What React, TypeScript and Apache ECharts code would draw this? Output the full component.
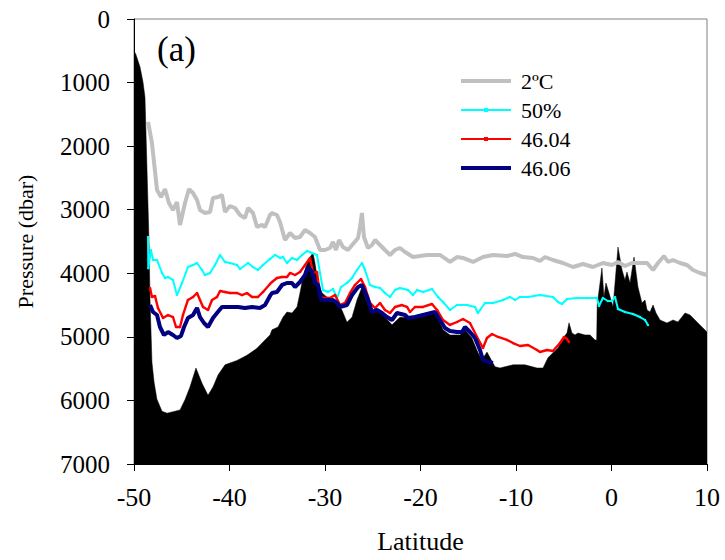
import React, { useEffect, useRef } from "react";
import * as echarts from "echarts";

const xTicks = { min: -50, max: 10, interval: 10 };
const yTicks = { min: 0, max: 7000, interval: 1000 };
const seriesNames = ["2ºC", "50%", "46.04", "46.06"];

// Bathymetry (sea floor) [latitude, pressure dbar]
const bathymetry: [number, number][] = [
  [-50, 500], [-49.8, 560], [-49.37, 755], [-49.06, 990], [-48.85, 1230], [-48.43, 3480],
  [-48.32, 4420], [-48.12, 5400], [-47.9, 5710], [-47.6, 5980], [-47.07, 6170], [-46.54, 6200],
  [-45.18, 6150], [-44.66, 5990], [-44.14, 5790], [-43.51, 5490], [-42.88, 5730], [-42.25, 5920],
  [-41.73, 5790], [-41.2, 5600], [-40.47, 5440], [-39.21, 5370], [-38.17, 5290], [-37.12, 5180],
  [-36.49, 5080], [-35.76, 4970], [-35.55, 4890], [-34.92, 4845], [-34.4, 4690], [-33.98, 4610],
  [-33.46, 4625], [-32.93, 4530], [-32.62, 4310], [-32.3, 4060], [-31.88, 3840], [-31.57, 3745],
  [-31.26, 3680], [-31.05, 3840], [-30.73, 4150], [-30.31, 4310], [-29.79, 4375], [-29.27, 4390],
  [-28.74, 4470], [-28.22, 4580], [-27.7, 4770], [-27.17, 4690], [-26.65, 4420], [-26.13, 4220],
  [-25.81, 4375], [-25.29, 4580], [-24.76, 4580], [-24.24, 4610], [-23.72, 4690], [-22.98, 4810],
  [-22.46, 4735], [-22.15, 4690], [-21.1, 4700], [-20.05, 4656], [-18.69, 4610], [-18.17, 4700],
  [-17.64, 4890], [-16.91, 4970], [-15.86, 4970], [-15.34, 4890], [-14.61, 5020], [-13.98, 5250],
  [-13.56, 5360], [-13.04, 5240], [-12.6, 5360], [-12.2, 5470], [-11.68, 5490], [-10.31, 5440],
  [-9.06, 5440], [-7.8, 5490], [-7.17, 5490], [-6.65, 5330], [-6.13, 5250], [-5.6, 5175],
  [-5.08, 5020], [-4.66, 4940], [-4.45, 4780], [-4.14, 4940], [-3.82, 4970], [-3.51, 4940],
  [-2.77, 4970], [-2.25, 4970], [-1.73, 5050], [-1.55, 5050], [-1.5, 4500], [-1.0, 3917],
  [-0.79, 4373], [-0.58, 4153], [-0.26, 4310], [0.16, 4530], [0.68, 3587], [1.1, 3948],
  [1.41, 4106], [1.62, 3980], [1.94, 4153], [2.36, 3744], [2.77, 4216], [3.19, 4467],
  [3.51, 4420], [3.72, 4577], [4.03, 4609], [4.35, 4499], [4.66, 4625], [5.08, 4735],
  [5.81, 4782], [6.44, 4735], [6.96, 4766], [7.7, 4625], [8.22, 4656], [8.95, 4766], [10, 4924],
];

// 2ºC isotherm
const iso2C: [number, number][] = [
  [-48.53, 1620], [-48.12, 1950], [-47.59, 2690], [-47.17, 2800], [-46.75, 2675], [-46.34, 2895],
  [-45.92, 3005], [-45.5, 2880], [-45.18, 3240], [-44.66, 2895], [-44.24, 2675], [-43.82, 2737],
  [-43.4, 2847], [-43.09, 3005], [-42.57, 3052], [-42.04, 3036], [-41.73, 2816], [-41.2, 2800],
  [-40.79, 2768], [-40.47, 3036], [-39.95, 2942], [-39.42, 2973], [-38.9, 3083], [-38.38, 3130],
  [-38.06, 2973], [-37.54, 3052], [-37.12, 3272], [-36.6, 3240], [-36.28, 3272], [-35.76, 3083],
  [-35.55, 3052], [-35.03, 3083], [-34.71, 3193], [-34.19, 3476], [-33.66, 3366], [-33.14, 3445],
  [-32.62, 3429], [-32.09, 3319], [-31.57, 3366], [-31.05, 3429], [-30.52, 3634], [-30.0, 3634],
  [-29.48, 3602], [-29.16, 3508], [-28.85, 3634], [-28.53, 3476], [-28.12, 3586], [-27.59, 3634],
  [-27.07, 3540], [-26.54, 3445], [-26.34, 3272], [-26.13, 3052], [-25.92, 3429], [-25.5, 3602],
  [-25.08, 3555], [-24.76, 3476], [-24.24, 3555], [-23.72, 3634], [-23.19, 3712], [-22.67, 3634],
  [-22.15, 3602], [-21.62, 3665], [-20.79, 3744], [-19.32, 3712], [-17.96, 3712], [-16.91, 3822],
  [-16.18, 3744], [-15.55, 3759], [-14.5, 3822], [-13.46, 3744], [-12.41, 3712], [-10.94, 3728],
  [-10.1, 3696], [-9.27, 3744], [-8.22, 3759], [-7.49, 3807], [-6.96, 3744], [-6.13, 3791],
  [-5.08, 3838], [-4.03, 3901], [-2.98, 3854], [-1.94, 3901], [-0.9, 3838], [0.05, 3870],
  [0.68, 3822], [1.41, 3885], [2.15, 3838], [2.77, 3838], [3.72, 3838], [4.35, 3948],
  [4.87, 3838], [5.5, 3728], [5.92, 3822], [6.44, 3791], [7.17, 3838], [7.91, 3870],
  [8.53, 3948], [9.27, 3995], [10.0, 4027],
];

// 50%
const pct50: [number, number][] = [
  [-48.53, 3430], [-48.5, 3920], [-48.22, 3634], [-48.01, 3791], [-47.59, 3791], [-47.07, 3995],
  [-46.75, 4074], [-46.44, 4058], [-45.92, 4106], [-45.5, 4342], [-44.97, 4153], [-44.35, 3901],
  [-43.82, 3870], [-43.4, 3838], [-42.88, 3948], [-42.57, 4027], [-42.04, 3995], [-41.52, 3870],
  [-40.99, 3712], [-40.47, 3822], [-39.95, 3838], [-39.21, 3870], [-38.9, 3932], [-38.06, 3838],
  [-37.54, 3901], [-37.02, 3948], [-36.49, 3870], [-35.76, 3775], [-35.24, 3712], [-34.71, 3759],
  [-34.4, 3744], [-33.98, 3838], [-33.46, 3759], [-32.93, 3791], [-32.41, 3712], [-31.88, 3649],
  [-31.36, 3681], [-30.84, 3712], [-30.52, 3995], [-30.21, 4263], [-29.69, 4294], [-29.16, 4247],
  [-28.74, 4389], [-28.32, 4216], [-27.7, 4153], [-27.17, 4074], [-26.65, 3948], [-26.13, 3838],
  [-25.81, 3948], [-25.29, 4184], [-24.76, 4216], [-24.24, 4231], [-23.72, 4310], [-23.19, 4373],
  [-22.67, 4263], [-22.15, 4231], [-21.31, 4263], [-20.79, 4342], [-20.37, 4263], [-19.74, 4294],
  [-18.8, 4247], [-18.17, 4373], [-17.64, 4452], [-16.91, 4577], [-16.18, 4499], [-15.13, 4499],
  [-14.29, 4530], [-13.98, 4625], [-13.25, 4467], [-12.41, 4467], [-11.36, 4420], [-10.63, 4373],
  [-10.1, 4420], [-9.58, 4373], [-8.74, 4373], [-7.49, 4342], [-6.13, 4373], [-5.6, 4452],
  [-5.18, 4483], [-4.66, 4404], [-3.61, 4389], [-2.57, 4389], [-1.52, 4389], [-1.31, 4515],
  [-0.9, 4389], [-0.38, 4436], [0.05, 4436], [0.37, 4373], [0.68, 4562], [1.41, 4609],
  [2.25, 4640], [2.98, 4688], [3.51, 4735], [3.82, 4813],
];

// 46.04
const dens4604: [number, number][] = [
  [-48.32, 4232], [-48.12, 4373], [-47.8, 4357], [-47.49, 4546], [-46.96, 4703], [-46.44, 4656],
  [-45.92, 4688], [-45.6, 4845], [-45.18, 4845], [-44.87, 4656], [-44.35, 4420], [-43.82, 4373],
  [-43.4, 4310], [-43.09, 4420], [-42.77, 4530], [-42.25, 4577], [-41.83, 4420], [-41.31, 4373],
  [-40.99, 4279], [-40.47, 4294], [-39.95, 4310], [-39.21, 4310], [-38.69, 4342], [-38.17, 4310],
  [-37.64, 4373], [-37.02, 4373], [-36.49, 4294], [-35.76, 4168], [-35.55, 4137], [-35.03, 4074],
  [-34.5, 4058], [-33.98, 4058], [-33.66, 3995], [-33.14, 4027], [-32.62, 3980], [-32.09, 3870],
  [-31.57, 3759], [-31.26, 3995], [-30.84, 3980], [-30.52, 4342], [-30.21, 4389], [-29.48, 4389],
  [-28.95, 4342], [-28.43, 4499], [-27.91, 4467], [-27.38, 4310], [-26.86, 4184], [-26.23, 4090],
  [-25.81, 4216], [-25.29, 4467], [-24.76, 4546], [-24.24, 4467], [-23.72, 4577], [-23.19, 4625],
  [-22.67, 4530], [-21.94, 4499], [-21.41, 4530], [-21.1, 4609], [-20.58, 4530], [-19.74, 4530],
  [-18.8, 4483], [-18.27, 4577], [-17.64, 4735], [-16.91, 4813], [-16.18, 4766], [-15.55, 4719],
  [-14.82, 4782], [-14.08, 5002], [-13.46, 5175], [-13.04, 5018], [-12.51, 4955], [-11.88, 5002],
  [-10.94, 5049], [-10.31, 5097], [-9.58, 5144], [-8.74, 5128], [-7.8, 5207], [-7.49, 5238],
  [-6.75, 5207], [-6.13, 5222], [-5.39, 5097], [-4.97, 5002], [-4.66, 5034], [-4.45, 5081],
];

// 46.06
const dens4606: [number, number][] = [
  [-48.32, 4499], [-48.01, 4609], [-47.59, 4656], [-47.28, 4845], [-46.86, 4971], [-46.44, 4924],
  [-45.92, 4971], [-45.5, 5018], [-45.08, 4986], [-44.76, 4845], [-44.35, 4703], [-43.82, 4656],
  [-43.4, 4546], [-43.09, 4688], [-42.67, 4782], [-42.25, 4845], [-41.73, 4703], [-41.31, 4625],
  [-40.79, 4530], [-39.95, 4530], [-39.42, 4530], [-39.11, 4530], [-38.38, 4546], [-37.64, 4530],
  [-36.81, 4546], [-36.28, 4499], [-35.76, 4357], [-35.55, 4310], [-35.03, 4294], [-34.5, 4184],
  [-33.98, 4153], [-33.46, 4153], [-33.14, 4216], [-32.62, 4137], [-32.09, 4027], [-31.78, 3901],
  [-31.36, 3980], [-31.05, 4153], [-30.73, 4184], [-30.42, 4420], [-29.79, 4420], [-29.16, 4420],
  [-28.74, 4467], [-28.43, 4530], [-27.7, 4499], [-27.17, 4342], [-26.54, 4216], [-26.13, 4184],
  [-25.6, 4373], [-25.08, 4609], [-24.55, 4577], [-24.03, 4625], [-23.51, 4688], [-22.98, 4735],
  [-22.46, 4625], [-21.62, 4656], [-21.31, 4703], [-20.58, 4688], [-19.74, 4656], [-18.48, 4609],
  [-17.96, 4735], [-17.43, 4861], [-16.91, 4908], [-16.18, 4924], [-15.65, 4924], [-15.34, 4845],
  [-14.82, 4924], [-14.29, 5018], [-13.77, 5207], [-13.46, 5364], [-12.93, 5395], [-12.41, 5411],
];

const FONT = "'Liberation Serif', 'Times New Roman', serif";

// legend icons: horizontal line shapes (thick / thin with a small centre marker)
const ICON_THICK = "path://M0,0L50,0L50,4L0,4Z";
const ICON_THIN = "path://M0,1L23,1L23,0L27,0L27,1L50,1L50,3L27,3L27,4L23,4L23,3L0,3Z";

export default function App() {
  const ref = useRef<HTMLDivElement>(null);
  useEffect(() => {
    if (!ref.current) return;
    const chart = echarts.init(ref.current, null, { renderer: "svg" });
    chart.setOption({
      animation: false,
      backgroundColor: "#ffffff",
      textStyle: { fontFamily: FONT, color: "#000" },
      grid: {
        left: 134, right: 18, top: 19, bottom: 96,
        show: true, borderColor: "#808080", borderWidth: 1, backgroundColor: "transparent",
      },
      graphic: [
        {
          type: "text", left: 157, top: 32, z: 100,
          style: { text: "(a)", font: `35px ${FONT}`, fill: "#000" },
        },
      ],
      legend: {
        orient: "vertical",
        left: 456, top: 65,
        itemWidth: 50, itemHeight: 12, itemGap: 7,
        data: [
          { name: seriesNames[0], icon: ICON_THICK },
          { name: seriesNames[1], icon: ICON_THIN },
          { name: seriesNames[2], icon: ICON_THIN },
          { name: seriesNames[3], icon: ICON_THICK },
        ],
        textStyle: { fontFamily: FONT, fontSize: 22, color: "#000", padding: [0, 0, 0, 5] },
      },
      xAxis: {
        type: "value",
        min: xTicks.min, max: xTicks.max, interval: xTicks.interval,
        name: "Latitude", nameLocation: "middle", nameGap: 64,
        nameTextStyle: { fontFamily: FONT, fontSize: 26, color: "#000" },
        axisLine: { show: true, onZero: false, lineStyle: { color: "#000", width: 1 } },
        axisTick: { show: true, inside: false, length: 7, lineStyle: { color: "#000" } },
        axisLabel: { fontFamily: FONT, fontSize: 26, color: "#000", margin: 20 },
        splitLine: { show: false },
      },
      yAxis: {
        type: "value", inverse: true,
        min: yTicks.min, max: yTicks.max, interval: yTicks.interval,
        name: "Pressure (dbar)", nameLocation: "middle", nameGap: 98, nameRotate: 90,
        nameTextStyle: { fontFamily: FONT, fontSize: 22, color: "#000" },
        axisLine: { show: true, onZero: false, lineStyle: { color: "#000", width: 1 } },
        axisTick: { show: true, inside: false, length: 7, lineStyle: { color: "#000" } },
        axisLabel: {
          fontFamily: FONT, fontSize: 25, color: "#000", margin: 24,
          formatter: (v: number) => String(v),
        },
        splitLine: { show: false },
      },
      series: [
        {
          name: "bathymetry", type: "line", data: bathymetry,
          symbol: "none", lineStyle: { width: 0.5, color: "#000" },
          areaStyle: { color: "#000", opacity: 1, origin: "end" },
          z: 1, silent: true,
        },
        {
          name: seriesNames[0], type: "line", data: iso2C, symbol: "none",
          lineStyle: { width: 4, color: "#c0c0c0" }, itemStyle: { color: "#c0c0c0" }, z: 2,
        },
        {
          name: seriesNames[1], type: "line", data: pct50, symbol: "circle", symbolSize: 2.5,
          showSymbol: true,
          lineStyle: { width: 2, color: "#00ffff" }, itemStyle: { color: "#00ffff" }, z: 3,
        },
        {
          name: seriesNames[2], type: "line", data: dens4604, symbol: "circle", symbolSize: 2.5,
          showSymbol: true,
          lineStyle: { width: 2.4, color: "#ff0000" }, itemStyle: { color: "#ff0000" }, z: 4,
        },
        {
          name: seriesNames[3], type: "line", data: dens4606, symbol: "none",
          lineStyle: { width: 4, color: "#000080" }, itemStyle: { color: "#000080" }, z: 5,
        },
      ],
    });
    return () => chart.dispose();
  }, []);
  return (
    <div
      ref={ref}
      style={{ position: "fixed", left: 0, top: 0, width: 725, height: 560, background: "#fff" }}
    />
  );
}
